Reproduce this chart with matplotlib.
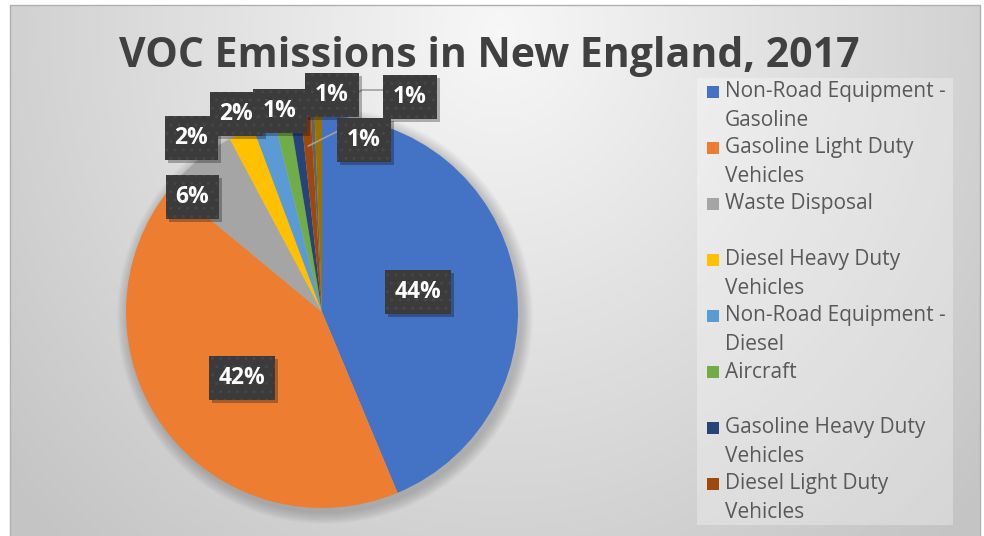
import textwrap
import numpy as np
import matplotlib
matplotlib.use("Agg")
import matplotlib.pyplot as plt
from matplotlib.patches import Rectangle, Circle

# data (percent of total VOC emissions)
categories = ["Non-Road Equipment - Gasoline", "Gasoline Light Duty Vehicles",
              "Waste Disposal", "Diesel Heavy Duty Vehicles",
              "Non-Road Equipment - Diesel", "Aircraft",
              "Gasoline Heavy Duty Vehicles", "Diesel Light Duty Vehicles",
              "Marine Vessels", "Locomotives"]
values = [43.7, 42.3, 6.2, 2.1, 1.8, 1.3, 0.9, 0.8, 0.3, 0.6]
colors = ["#4472C4", "#ED7D31", "#A5A5A5", "#FFC000", "#5B9BD5", "#70AD47",
          "#264478", "#9E480E", "#636363", "#997300"]
title = "VOC Emissions in New England, 2017"

W, H = 984, 536
CX, CY, R = 322, 312, 196          # pie centre / radius in image pixels (y from top)

# label box centres (image pixels, y from top); None = no label
label_pos = [(418, 292), (242, 378), (192, 197), (191, 138), (236, 114),
             (280, 111), (332, 95), (364, 140), None, (410, 97)]

fig = plt.figure(figsize=(W / 100, H / 100), dpi=100)
ax = fig.add_axes([0, 0, 1, 1])

# chart area background: soft radial grey gradient
gx, gy = np.meshgrid(np.linspace(10, 980, 300), np.linspace(5, H, 200))
rr = np.sqrt(((gx - 500) / 520) ** 2 + ((gy - 30) / 560) ** 2)
shade = np.clip(0.97 - 0.16 * rr, 0.77, 0.97)
ax.imshow(np.dstack([shade, shade, shade]), extent=(10, 980, 0, H - 5),
          origin="upper", aspect="auto", zorder=0, interpolation="bilinear")
ax.add_patch(Rectangle((10, -5), 970, H - 5 + 5, fill=False, ec="#b0b0b0", lw=1, zorder=1))

# soft shadow behind the pie
for k in range(12):
    ax.add_patch(Circle((CX + 3, H - CY - 4), R + 12 - k, fc="black", ec="none",
                        alpha=0.016, zorder=1))

wedges, _ = ax.pie(values, colors=colors, startangle=90, counterclock=False,
                   center=(CX, H - CY), radius=R, wedgeprops=dict(linewidth=0))
for w in wedges:
    w.set_zorder(2)

# data labels (dark dotted boxes)
labels = []
for i, v in enumerate(values):
    pos = label_pos[i]
    if pos is None:
        continue
    t = ax.text(pos[0], H - pos[1], f"{v:.0f}%", ha="center", va="center",
                fontsize=16.5, fontweight="bold", color="white", family="Open Sans",
                zorder=6,
                bbox=dict(boxstyle="square,pad=0.42", fc="#3b3b3b", ec="#464646",
                          lw=0, hatch=".."))
    labels.append(t)

# leader lines for the tiny slices
def wedge_point(w, frac):
    a = np.deg2rad((w.theta1 + w.theta2) / 2)
    return w.center[0] + frac * w.r * np.cos(a), w.center[1] + frac * w.r * np.sin(a)

lc = "#a0a0a0"
px, py = wedge_point(wedges[6], 1.0)
ax.plot([px, 318], [py, H - 114], color=lc, lw=1.2, zorder=5)
px, py = wedge_point(wedges[7], 0.85)
ax.plot([px, 340], [py, H - 130], color=lc, lw=1.2, zorder=5)
px, py = wedge_point(wedges[9], 1.0)
ax.plot([px, 362, 385], [py, H - 90, H - 90], color=lc, lw=1.2, zorder=5)

# title
ax.text(489, H - 67, title, ha="center", va="baseline", fontsize=29.5,
        fontweight="bold", color="#404040", family="Open Sans", zorder=7)

# legend (only the first eight entries fit in the box)
ax.add_patch(Rectangle((697, H - 525), 256, 447, fc="white", ec="none", alpha=0.3, zorder=3))
for i in range(8):
    y0 = 92 + 56 * i
    ax.add_patch(Rectangle((707, H - y0 - 6), 12, 12, fc=colors[i], ec="none", zorder=4))
    for j, line in enumerate(textwrap.wrap(categories[i], 20)):
        ax.text(725, H - y0 - 28 * j, line, ha="left", va="center", fontsize=15,
                color="#595959", family="Open Sans", zorder=4)

ax.set_xlim(0, W)
ax.set_ylim(0, H)
ax.set_aspect("equal")
ax.set_axis_off()

# drop shadows under the label boxes, sized from the drawn boxes
fig.canvas.draw()
inv = ax.transData.inverted()
for t in labels:
    bb = t.get_bbox_patch().get_window_extent()
    (x0, y0), (x1, y1) = inv.transform([(bb.x0, bb.y0), (bb.x1, bb.y1)])
    ax.add_patch(Rectangle((x0 + 3, y0 - 3), x1 - x0, y1 - y0, fc="black", ec="none",
                           alpha=0.28, zorder=5.5))

fig.savefig("out.png", dpi=100, facecolor="white")
